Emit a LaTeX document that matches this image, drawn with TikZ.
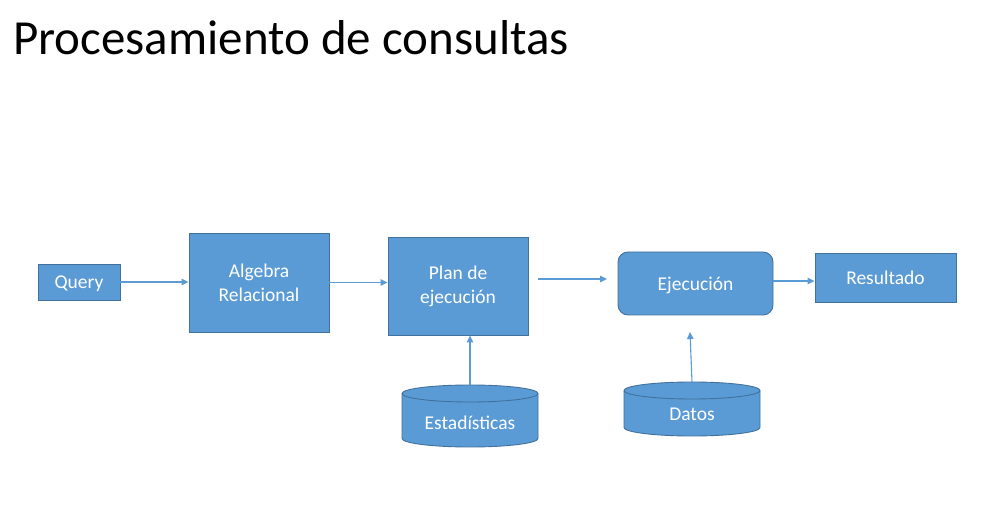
\documentclass[tikz,border=0pt]{standalone}
\usepackage{fontspec}
\setmainfont{Carlito}
\usetikzlibrary{arrows.meta,calc}
\definecolor{boxfill}{HTML}{5B9BD5}
\definecolor{boxline}{HTML}{41719C}
\definecolor{arrcol}{HTML}{5B9BD5}
\tikzset{
  blockbox/.style={draw=boxline,fill=boxfill,line width=0.9pt,text=white,
    font=\fontsize{19.5}{24}\selectfont,align=center,inner sep=0pt},
  oneline/.style={text depth=0pt},
  arr/.style={draw=arrcol,line width=1.1pt,-{Triangle[length=7pt,width=6.5pt]}},
  cyl/.style={draw=boxline,fill=boxfill,line width=0.9pt},
  cyltext/.style={text=white,font=\fontsize{19.5}{24}\selectfont,inner sep=0pt}
}
\begin{document}
\begin{tikzpicture}[x=1pt,y=1pt]
\useasboundingbox (0,0) rectangle (989,512);
\fill[white] (0,0) rectangle (989,512);
% title
\node[anchor=base west,inner sep=0pt,font=\fontsize{49}{58}\selectfont] (title) at (13,457) {Procesamiento de consultas};
% boxes
\node[blockbox,oneline,minimum width=82,minimum height=36] (q) at (79,230) {Query};
\node[blockbox,minimum width=140,minimum height=99] (alg) at (259,229.5) {Algebra\\Relacional};
\node[blockbox,minimum width=140,minimum height=98] (plan) at (458,226) {Plan de\\ejecución};
\node[blockbox,oneline,rounded corners=10pt,minimum width=155,minimum height=63] (ejec) at (695.5,228.5) {Ejecución};
\node[blockbox,minimum width=141,minimum height=49] (res) at (885.5,234.5) {Resultado};
% cylinders
\draw[cyl] (402,118.5) -- (402,73.5) arc[start angle=180,end angle=360,x radius=68pt,y radius=8.5pt] -- (538,118.5) arc[start angle=0,end angle=180,x radius=68pt,y radius=8.5pt] -- cycle;
\draw[cyl,fill=none] (402,118.5) arc[start angle=180,end angle=360,x radius=68pt,y radius=8.5pt];
\node[cyltext] (est) at (470,89) {Estadísticas};
\coordinate (esttop) at (470,127);
\draw[cyl] (624,121.5) -- (624,84.5) arc[start angle=180,end angle=360,x radius=68pt,y radius=8.5pt] -- (760,121.5) arc[start angle=0,end angle=180,x radius=68pt,y radius=8.5pt] -- cycle;
\draw[cyl,fill=none] (624,121.5) arc[start angle=180,end angle=360,x radius=68pt,y radius=8.5pt];
\node[cyltext] (datos) at (692,98) {Datos};
\coordinate (datostop) at (692,130);
\coordinate (datosend) at (690,180);
% connectors
\draw[arr] (q.east) -- (q.east -| alg.west);
\draw[arr] (alg.east) -- (alg.east -| plan.west);
\coordinate (fa) at (538,233);
\coordinate (fb) at (607,233);
\draw[arr] (fa) -- (fb);
\coordinate (e1) at ([yshift=2.5pt]ejec.east);
\draw[arr] (e1) -- (e1 -| res.west);
\draw[arr] (esttop) -- (esttop |- plan.south);
\draw[arr] (datostop) -- (datosend);
\end{tikzpicture}
\end{document}
